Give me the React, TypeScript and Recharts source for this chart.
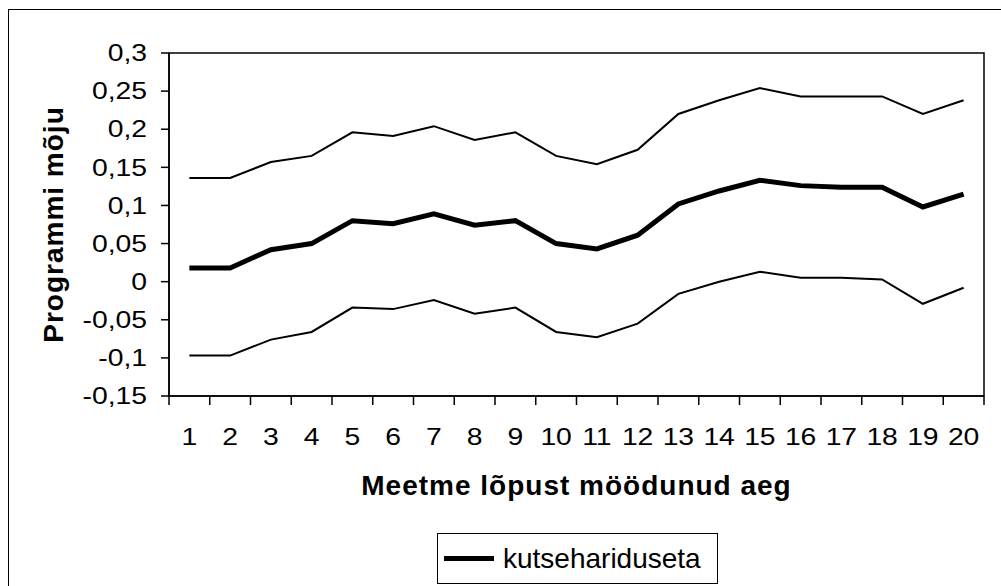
import { LineChart, Line, XAxis, YAxis, ReferenceArea, Legend } from 'recharts';

const periods = [1, 2, 3, 4, 5, 6, 7, 8, 9, 10, 11, 12, 13, 14, 15, 16, 17, 18, 19, 20];
const upperBound = [0.136, 0.136, 0.157, 0.165, 0.196, 0.191, 0.204, 0.186, 0.196, 0.165, 0.154, 0.173, 0.22, 0.238, 0.254, 0.243, 0.243, 0.243, 0.22, 0.238];
const effect = [0.018, 0.018, 0.042, 0.05, 0.08, 0.076, 0.089, 0.074, 0.08, 0.05, 0.043, 0.061, 0.102, 0.119, 0.133, 0.126, 0.124, 0.124, 0.098, 0.115];
const lowerBound = [-0.097, -0.097, -0.076, -0.066, -0.034, -0.036, -0.024, -0.042, -0.034, -0.066, -0.073, -0.055, -0.016, 0.0, 0.013, 0.005, 0.005, 0.003, -0.029, -0.008];
const yTicks = [-0.15, -0.1, -0.05, 0, 0.05, 0.1, 0.15, 0.2, 0.25, 0.3];

const seriesName = 'kutsehariduseta';
const xTitle = 'Meetme lõpust möödunud aeg';
const yTitle = 'Programmi mõju';

const data = periods.map((p, i) => ({
  period: p,
  upper: upperBound[i],
  effect: effect[i],
  lower: lowerBound[i],
}));

// tick marks sit between categories, labels at category centres
const boundaries = [...periods.map((p) => p - 0.5), periods[periods.length - 1] + 0.5];
const xTicks = [...boundaries, ...periods].sort((a, b) => a - b);

const FONT = '"Liberation Sans", Arial, sans-serif';
const TICK_LEN = 9;

const fmt = (v: number) => String(v).replace('.', ',');

const YTick = ({ x, y, payload }: any) => (
  <text
    transform={`translate(${x},${y}) scale(1.18,1)`}
    textAnchor="end"
    dominantBaseline="central"
    fontFamily={FONT}
    fontSize={24}
    fill="#000"
  >
    {fmt(payload.value)}
  </text>
);

const XTick = ({ x, y, payload }: any) => {
  const v = payload.value;
  if (!Number.isInteger(v)) {
    return <line x1={x} x2={x} y1={y - TICK_LEN} y2={y} stroke="#000" strokeWidth={1.5} />;
  }
  return (
    <text
      transform={`translate(${x},${y + 32}) scale(1.18,1)`}
      textAnchor="middle"
      dominantBaseline="central"
      fontFamily={FONT}
      fontSize={24}
      fill="#000"
    >
      {v}
    </text>
  );
};

const LegendBox = ({ payload }: any) => {
  const items = (payload || []).filter((p: any) => p.value === seriesName);
  return (
    <div
      style={{
        boxSizing: 'border-box',
        width: 281,
        height: 51,
        border: '1.5px solid #000',
        background: '#fff',
        display: 'flex',
        alignItems: 'center',
        paddingLeft: 6,
        fontFamily: FONT,
        fontSize: 28,
        color: '#000',
      }}
    >
      {items.map((it: any) => (
        <div key={it.value} style={{ display: 'flex', alignItems: 'center' }}>
          <div style={{ width: 50, height: 5, background: it.color, marginRight: 9 }} />
          <span>{it.value}</span>
        </div>
      ))}
    </div>
  );
};

export default function App() {
  return (
    <div style={{ position: 'absolute', left: 0, top: 0, width: 1001, height: 586, overflow: 'hidden', background: '#fff' }}>
      <div
        style={{
          position: 'absolute',
          left: 8,
          top: 9,
          width: 1010,
          height: 600,
          border: '1.5px solid #000',
        }}
      />
      <LineChart
        width={1001}
        height={586}
        data={data}
        margin={{ top: 53, right: 17, left: 0, bottom: 0 }}
        style={{ position: 'absolute', left: 0, top: 0 }}
      >
        <ReferenceArea
          x1={0.5}
          x2={20.5}
          y1={-0.15}
          y2={0.3}
          fill="none"
          stroke="#000"
          strokeWidth={1.5}
          ifOverflow="visible"
        />
        <XAxis
          dataKey="period"
          type="number"
          domain={[0.5, 20.5]}
          ticks={xTicks}
          interval={0}
          allowDataOverflow
          height={190}
          tickLine={false}
          tickSize={TICK_LEN}
          tickMargin={0}
          axisLine={{ stroke: '#000', strokeWidth: 1.5 }}
          tick={<XTick />}
          label={{
            content: ({ viewBox }: any) => (
              <text
                x={viewBox.x + viewBox.width / 2}
                y={viewBox.y + 89}
                textAnchor="middle"
                dominantBaseline="central"
                fontFamily={FONT}
                fontWeight="bold"
                fontSize={28}
                letterSpacing={1}
                fill="#000"
              >
                {xTitle}
              </text>
            ),
          }}
        />
        <YAxis
          type="number"
          domain={[-0.15, 0.3]}
          ticks={yTicks}
          interval={0}
          width={169}
          tickSize={8}
          tickMargin={14}
          tickLine={{ stroke: '#000', strokeWidth: 1.5 }}
          axisLine={{ stroke: '#000', strokeWidth: 1.5 }}
          tick={<YTick />}
          label={{
            content: ({ viewBox }: any) => {
              const cx = viewBox.x + 53;
              const cy = viewBox.y + viewBox.height / 2;
              return (
                <text
                  x={cx}
                  y={cy}
                  transform={`rotate(-90, ${cx}, ${cy})`}
                  textAnchor="middle"
                  dominantBaseline="central"
                  fontFamily={FONT}
                  fontWeight="bold"
                  fontSize={28}
                  letterSpacing={1}
                  fill="#000"
                >
                  {yTitle}
                </text>
              );
            },
          }}
        />
        <Line
          dataKey="upper"
          stroke="#000"
          strokeWidth={2}
          dot={false}
          legendType="none"
          isAnimationActive={false}
        />
        <Line
          dataKey="lower"
          stroke="#000"
          strokeWidth={2}
          dot={false}
          legendType="none"
          isAnimationActive={false}
        />
        <Line
          dataKey="effect"
          name={seriesName}
          stroke="#000"
          strokeWidth={5}
          strokeLinejoin="miter"
          dot={false}
          isAnimationActive={false}
        />
        <Legend
          layout="horizontal"
          verticalAlign="middle"
          align="center"
          content={<LegendBox />}
          wrapperStyle={{ left: 437, top: 533, width: 281, height: 51 }}
        />
      </LineChart>
    </div>
  );
}
